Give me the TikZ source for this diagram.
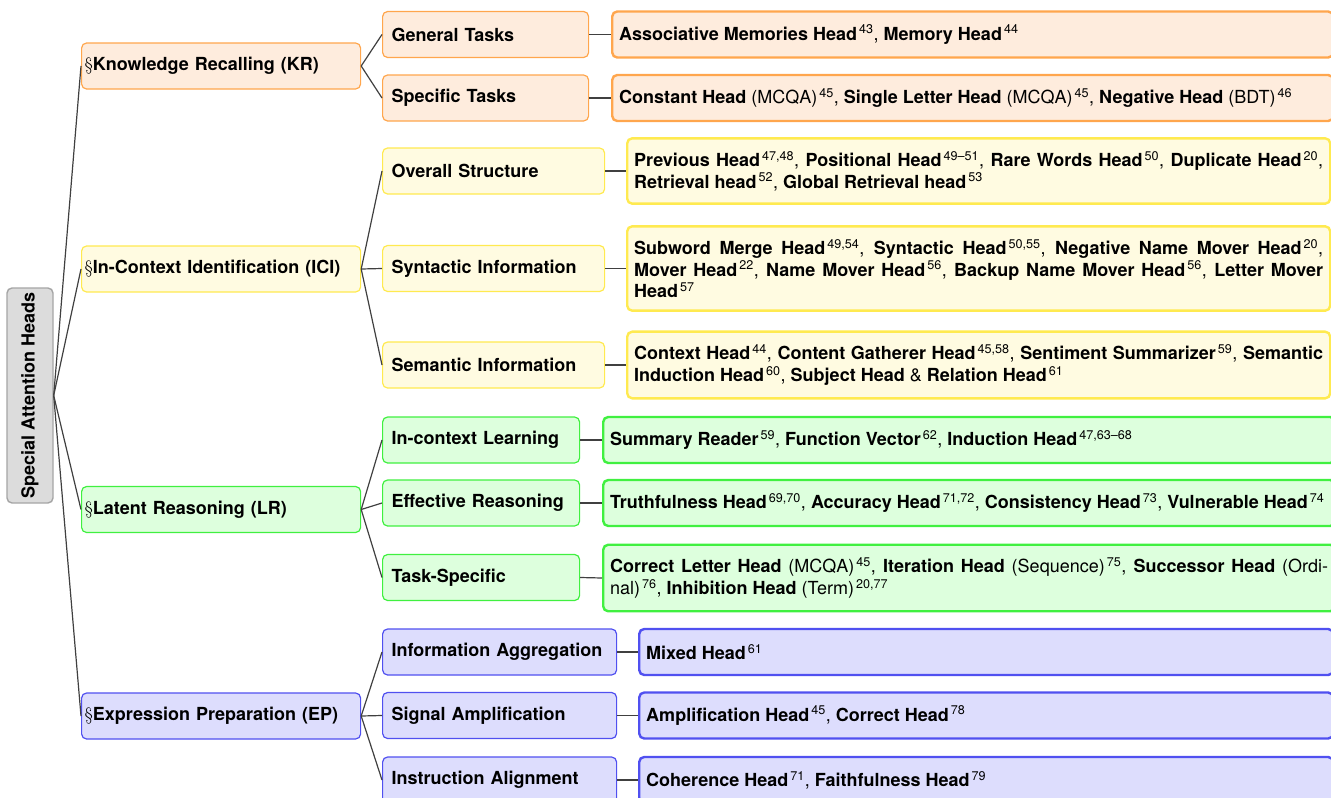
\documentclass[tikz,border=0pt]{standalone}
\usepackage{fontspec}
\setsansfont{TeX Gyre Heros}

\definecolor{krfill}{RGB}{254,236,221}
\definecolor{krline}{RGB}{255,166,77}
\definecolor{icifill}{RGB}{255,251,225}
\definecolor{iciline}{RGB}{255,234,80}
\definecolor{lrfill}{RGB}{221,255,221}
\definecolor{lrline}{RGB}{64,240,64}
\definecolor{epfill}{RGB}{221,221,253}
\definecolor{epline}{RGB}{80,80,240}
\definecolor{rootfill}{RGB}{220,220,220}
\definecolor{rootline}{RGB}{165,165,165}
\definecolor{edgegray}{RGB}{64,64,64}

\newcommand{\hd}[1]{\textbf{#1}}
\newcommand{\rf}[1]{\kern2pt\textsuperscript{#1}}
\newcommand{\sect}{{\normalfont\S}}

\begin{document}
\begin{tikzpicture}[x=1pt,y=-1pt, %Taxonomia de cabezas de atencion
        every node/.style={font=\sffamily\fontsize{18}{21.5}\selectfont},
        rootbox/.style={draw=rootline,fill=rootfill,line width=1.4pt,rounded corners=5pt,
            rotate=90,minimum width=215pt,minimum height=46pt,inner sep=0pt,
            font=\sffamily\bfseries\fontsize{18}{21.5}\selectfont},
        catbox/.style={line width=1.2pt,rounded corners=5pt,minimum height=46pt,
            inner xsep=3pt,inner ysep=0pt,text width=273pt,align=left,anchor=west,
            font=\sffamily\bfseries\fontsize{18}{21.5}\selectfont},
        subbox/.style={line width=1.2pt,rounded corners=5pt,minimum height=46pt,
            inner xsep=9pt,inner ysep=0pt,align=left,anchor=west,
            font=\sffamily\bfseries\fontsize{18}{21.5}\selectfont},
        headbox/.style={line width=2.4pt,rounded corners=5pt,minimum height=46pt,
            inner xsep=7pt,inner ysep=13pt,align=justify,anchor=west},
        kr/.style={fill=krfill,draw=krline},
        ici/.style={fill=icifill,draw=iciline},
        lr/.style={fill=lrfill,draw=lrline},
        ep/.style={fill=epfill,draw=epline},
        edge/.style={draw=edgegray,line width=1.2pt}]
        \useasboundingbox (0,0) rectangle (1331,798);

        \node[rootbox] (root) at (30,395.5) {Special Attention Heads};

        \node[catbox,kr] (kr) at (81,66) {\sect Knowledge Recalling (KR)};
        \node[catbox,ici] (ici) at (81,269) {\sect In-Context Identification (ICI)};
        \node[catbox,lr] (lr) at (81,509.5) {\sect Latent Reasoning (LR)};
        \node[catbox,ep] (ep) at (81,716) {\sect Expression Preparation (EP)};

        \node[subbox,kr,text width=188pt] (gt) at (382,34.5) {General Tasks};
        \node[subbox,kr,text width=188pt] (st) at (382,98) {Specific Tasks};
        \node[subbox,ici,text width=204pt] (os) at (382,171) {Overall Structure};
        \node[subbox,ici,text width=204pt] (si) at (382,268.5) {Syntactic Information};
        \node[subbox,ici,text width=204pt] (se) at (382,365) {Semantic Information};
        \node[subbox,lr,text width=179pt] (il) at (382,440) {In-context Learning};
        \node[subbox,lr,text width=179pt] (er) at (382,503) {Effective Reasoning};
        \node[subbox,lr,text width=179pt] (ts) at (382,577.5) {Task-Specific};
        \node[subbox,ep,text width=216pt] (ia) at (382,652) {Information Aggregation};
        \node[subbox,ep,text width=216pt] (sa) at (382,715.5) {Signal Amplification};
        \node[subbox,ep,text width=216pt] (al) at (382,780) {Instruction Alignment};

        \node[headbox,kr,text width=707pt] (gt-h) at (611,34.5)
            {\hd{Associative Memories Head}\rf{43}, \hd{Memory Head}\rf{44}};
        \node[headbox,kr,text width=707pt] (st-h) at (611,98)
            {\hd{Constant Head} (MCQA)\rf{45}, \hd{Single Letter Head} (MCQA)\rf{45}, \hd{Negative Head} (BDT)\rf{46}};
        \node[headbox,ici,text width=689pt] (os-h) at (626,171)
            {\hd{Previous Head}\rf{47,48}, \hd{Positional Head}\rf{49--51}, \hd{Rare Words Head}\rf{50}, \hd{Duplicate Head}\rf{20},\linebreak
            \hd{Retrieval head}\rf{52}, \hd{Global Retrieval head}\rf{53}};
        \node[headbox,ici,text width=689pt] (si-h) at (626,268.5)
            {\hd{Subword Merge Head}\rf{49,54}, \hd{Syntactic Head}\rf{50,55}, \hd{Negative Name Mover Head}\rf{20},\linebreak
            \hd{Mover Head}\rf{22}, \hd{Name Mover Head}\rf{56}, \hd{Backup Name Mover Head}\rf{56}, \hd{Letter Mover}\linebreak
            \hd{Head}\rf{57}};
        \node[headbox,ici,text width=689pt] (se-h) at (626,365)
            {\hd{Context Head}\rf{44}, \hd{Content Gatherer Head}\rf{45,58}, \hd{Sentiment Summarizer}\rf{59}, \hd{Semantic}\linebreak
            \hd{Induction Head}\rf{60}, \hd{Subject Head} \& \hd{Relation Head}\rf{61}};
        \node[headbox,lr,text width=718pt] (il-h) at (602,440)
            {\hd{Summary Reader}\rf{59}, \hd{Function Vector}\rf{62}, \hd{Induction Head}\rf{47,63--68}};
        \node[headbox,lr,text width=718pt] (er-h) at (602,503)
            {\hd{Truthfulness Head}\rf{69,70}, \hd{Accuracy Head}\rf{71,72}, \hd{Consistency Head}\rf{73}, \hd{Vulnerable Head}\rf{74}};
        \node[headbox,lr,text width=718pt] (ts-h) at (602,578)
            {\hd{Correct Letter Head} (MCQA)\rf{45}, \hd{Iteration Head} (Sequence)\rf{75}, \hd{Successor Head} (Ordi-\linebreak
            nal)\rf{76}, \hd{Inhibition Head} (Term)\rf{20,77}};
        \node[headbox,ep,text width=680pt] (ia-h) at (638,652) {\hd{Mixed Head}\rf{61}};
        \node[headbox,ep,text width=680pt] (sa-h) at (638,715.5)
            {\hd{Amplification Head}\rf{45}, \hd{Correct Head}\rf{78}};
        \node[headbox,ep,text width=680pt] (al-h) at (638,780)
            {\hd{Coherence Head}\rf{71}, \hd{Faithfulness Head}\rf{79}};

        \draw[edge] (root.south) -- (kr.west);
        \draw[edge] (root.south) -- (ici.west);
        \draw[edge] (root.south) -- (lr.west);
        \draw[edge] (root.south) -- (ep.west);

        \draw[edge] (kr.east) -- (gt.west);
        \draw[edge] (kr.east) -- (st.west);
        \draw[edge] (ici.east) -- (os.west);
        \draw[edge] (ici.east) -- (si.west);
        \draw[edge] (ici.east) -- (se.west);
        \draw[edge] (lr.east) -- (il.west);
        \draw[edge] (lr.east) -- (er.west);
        \draw[edge] (lr.east) -- (ts.west);
        \draw[edge] (ep.east) -- (ia.west);
        \draw[edge] (ep.east) -- (sa.west);
        \draw[edge] (ep.east) -- (al.west);

        \draw[edge] (gt.east) -- (gt-h.west);
        \draw[edge] (st.east) -- (st-h.west);
        \draw[edge] (os.east) -- (os-h.west);
        \draw[edge] (si.east) -- (si-h.west);
        \draw[edge] (se.east) -- (se-h.west);
        \draw[edge] (il.east) -- (il-h.west);
        \draw[edge] (er.east) -- (er-h.west);
        \draw[edge] (ts.east) -- (ts-h.west);
        \draw[edge] (ia.east) -- (ia-h.west);
        \draw[edge] (sa.east) -- (sa-h.west);
        \draw[edge] (al.east) -- (al-h.west);
    \end{tikzpicture}
\end{document}
